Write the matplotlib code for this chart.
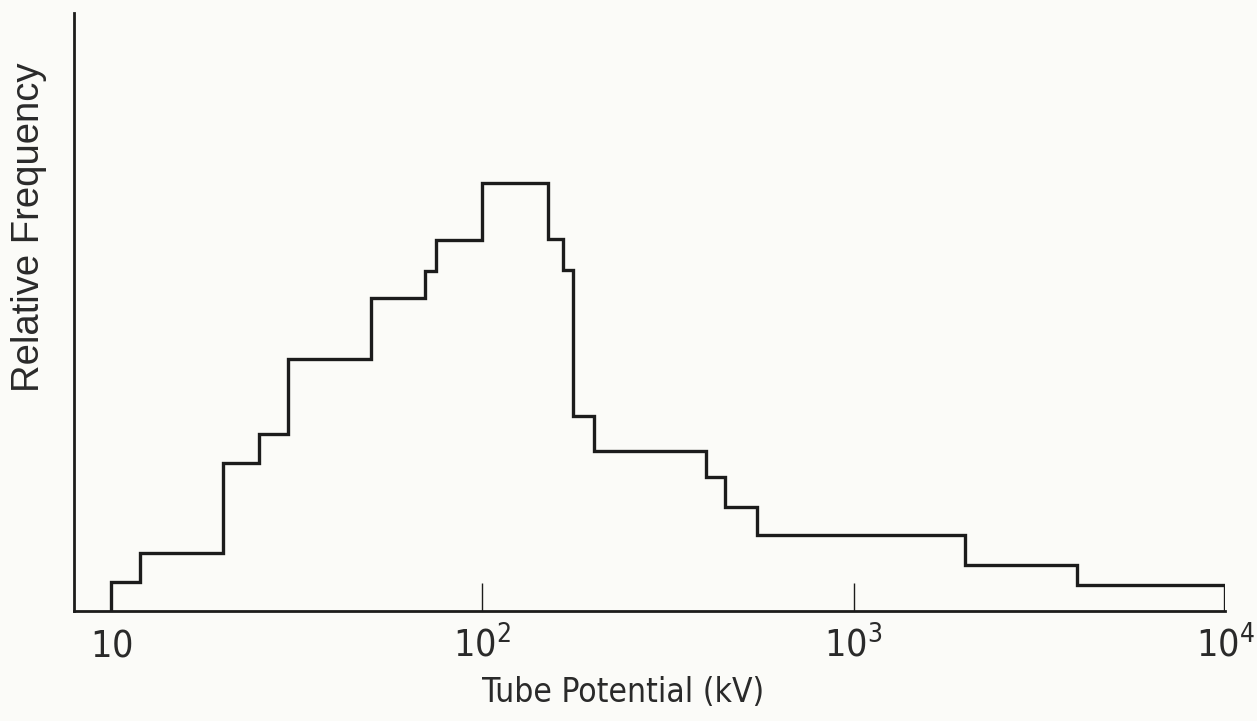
import matplotlib
matplotlib.use('Agg')
import matplotlib.pyplot as plt

# ---- data ----
bin_edges = [10, 12, 20, 25, 30, 50, 70, 75, 100, 150, 165, 175, 200,
             400, 450, 550, 2000, 4000, 10000]
rel_freq = [29, 58, 148, 177, 252, 313, 340, 371, 428, 372, 341, 195,
            160, 134, 104, 76, 46, 26]
tick_values = [10, 100, 1000, 10000]
tick_labels = [r'$10$', r'$10^2$', r'$10^3$', r'$10^4$']
x_label = 'Tube Potential (kV)'
y_label = 'Relative Frequency'

plt.rcParams['mathtext.fontset'] = 'custom'
plt.rcParams['mathtext.rm'] = 'DejaVu Sans:stretch=condensed'
plt.rcParams['mathtext.it'] = 'DejaVu Sans:stretch=condensed:style=oblique'
plt.rcParams['mathtext.bf'] = 'DejaVu Sans:stretch=condensed:weight=bold'

bg = '#fbfbf8'
ink = '#1c1c1c'

fig = plt.figure(figsize=(12.57, 7.21), dpi=100, facecolor=bg)
ax = fig.add_axes([74/1257, 1 - 611/721, (1225 - 74)/1257, (611 - 13)/721])
ax.set_facecolor(bg)

ax.stairs(rel_freq, bin_edges, baseline=0, fill=False, color=ink, linewidth=2.4)

ax.set_xscale('log')
ax.set_xlim(7.95, 10000)
ax.set_ylim(0, 598)

for s in ['top', 'right']:
    ax.spines[s].set_visible(False)
for s in ['left', 'bottom']:
    ax.spines[s].set_linewidth(2.0)
    ax.spines[s].set_color(ink)

ax.set_yticks([])
ax.set_xticks(tick_values)
ax.set_xticklabels(tick_labels)
ax.xaxis.set_minor_locator(matplotlib.ticker.NullLocator())
ax.tick_params(axis='x', which='major', direction='in', length=20, width=1.0,
               color=ink, labelsize=27, labelcolor='#2a2a2a', pad=33)
plt.setp(ax.get_xticklabels(), va='baseline')
ticks = ax.xaxis.get_major_ticks()
ticks[0].tick1line.set_visible(False)
ticks[-1].tick1line.set_visible(False)

ax.set_xlabel(x_label, fontsize=24, family='DejaVu Sans', stretch='condensed',
              color='#2a2a2a')
ax.xaxis.set_label_coords((623 - 74)/1151, (611 - 693)/598)
ax.xaxis.label.set_va('center')

ax.set_ylabel(y_label, fontsize=27.5, family='Liberation Sans', color='#2a2a2a')
ax.yaxis.set_label_coords((29 - 74)/1151, (611 - 227)/598)
ax.yaxis.label.set_va('center')

fig.savefig('out.png', dpi=100, facecolor=bg)
